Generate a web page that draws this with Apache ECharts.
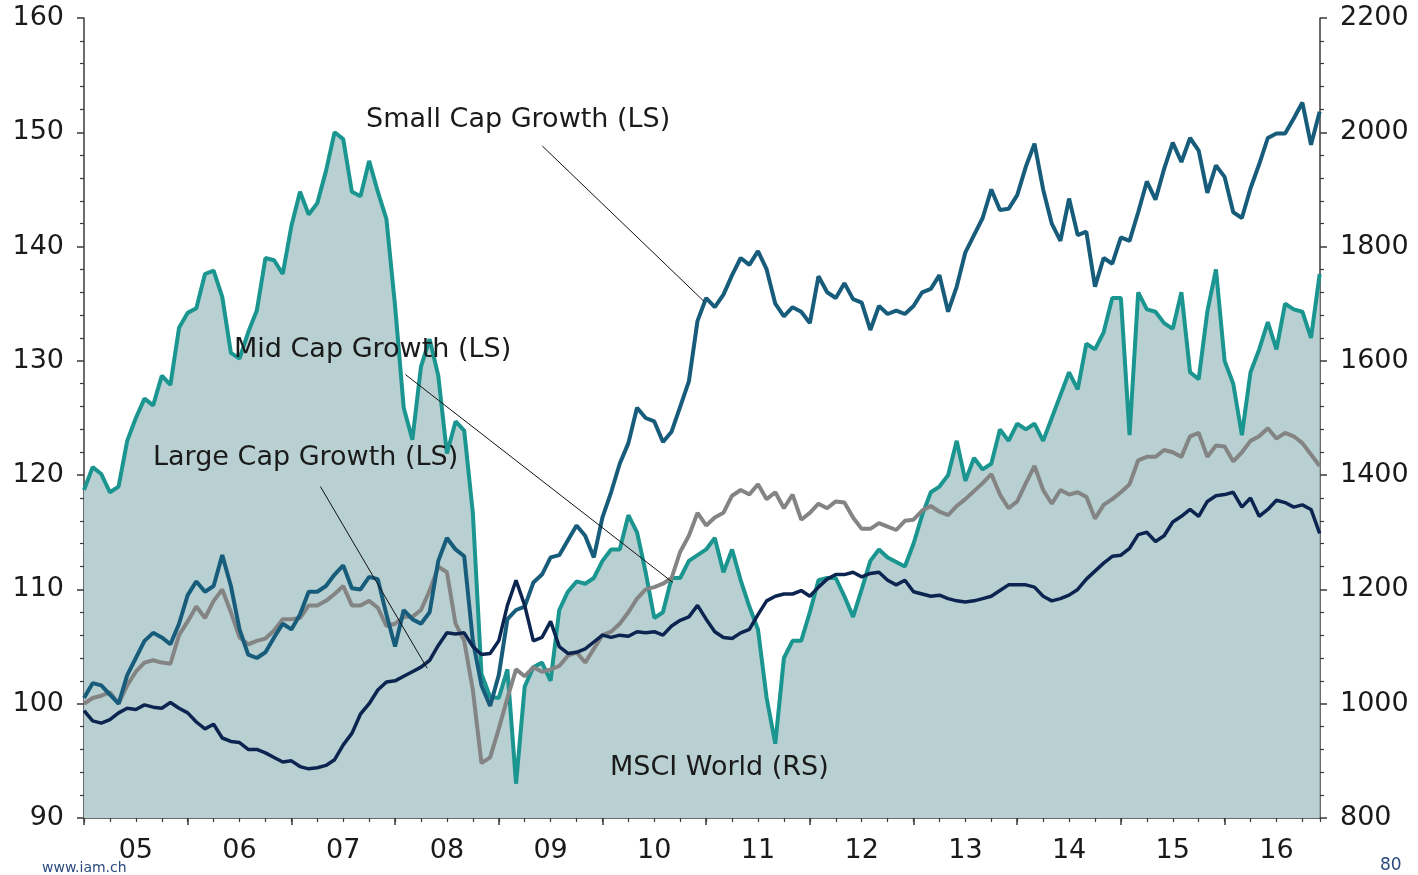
<!DOCTYPE html>
<html>
<head>
<meta charset="utf-8">
<script src="https://cdn.jsdelivr.net/npm/echarts@6/dist/echarts.min.js"></script>
<style>
  html, body { margin: 0; padding: 0; background: #fff; }
  #chart-container { width: 1418px; height: 875px; }
</style>
</head>
<body>
<div id="chart-container"></div>
<script>
// monthly readings, Jan 2005 .. Dec 2016
var startYear = 2005;

// left scale (LS)
var smallCap = [100.5, 101.8, 101.6, 100.8, 100, 102.5, 104, 105.5, 106.2, 105.8, 105.2, 107, 109.5, 110.7, 109.8, 110.3, 113, 110.3, 106.5, 104.3, 104, 104.5, 105.8, 107, 106.5,
  107.8, 109.8, 109.8, 110.3, 111.3, 112.1, 110.1, 110, 111.1, 110.9, 107.8, 105, 108.2, 107.4, 107, 108, 112.5, 114.5, 113.5, 112.9, 105.5, 101.6, 99.8,
  102.5, 107.4, 108.2, 108.5, 110.6, 111.3, 112.8, 113, 114.3, 115.6, 114.7, 112.8, 116.3, 118.5, 121, 122.8, 125.9, 125, 124.7, 122.9, 123.8, 126, 128.2, 133.5, 135.5, 134.7,
  135.8, 137.5, 139, 138.4, 139.6, 138, 135, 133.9, 134.7, 134.3, 133.3, 137.4, 136, 135.5, 136.8, 135.4, 135.1, 132.7, 134.8, 134.1, 134.4, 134.1, 134.8, 136,
  136.3, 137.5, 134.3, 136.5, 139.5, 141, 142.5, 145, 143.2, 143.3, 144.5, 147, 149, 145, 142, 140.5, 144.2, 141, 141.3, 136.5, 139, 138.5,
  140.8, 140.5, 143, 145.7, 144.1, 146.8, 149.1, 147.4, 149.5, 148.4, 144.7, 147.1, 146.1, 143, 142.5, 145.1, 147.2, 149.5, 149.9, 149.9, 151.2, 152.6, 148.9, 151.8];

var midCap = [100, 100.5, 100.7, 101, 100, 101.6, 102.8, 103.6, 103.8, 103.6, 103.5, 106, 107.2, 108.5, 107.5, 109, 110, 108, 105.8, 105.2, 105.5, 105.7, 106.4, 107.4, 107.4,
  107.5, 108.6, 108.6, 109, 109.6, 110.3, 108.6, 108.6, 109, 108.4, 106.8, 107, 107.6, 107.6, 108.2, 109.9, 112, 111.5, 107, 105.5, 101.2, 94.8, 95.3,
  97.8, 100.5, 103, 102.4, 103.2, 102.8, 103, 103.3, 104.2, 104.5, 103.6, 104.8, 106, 106.3, 107, 108, 109.2, 110, 110.2, 110.5, 111, 113.3, 114.7, 116.7, 115.6, 116.3,
  116.7, 118.2, 118.7, 118.3, 119.2, 117.9, 118.5, 117.1, 118.3, 116.1, 116.7, 117.5, 117.1, 117.7, 117.6, 116.3, 115.3, 115.3, 115.8, 115.5, 115.2, 116, 116.1, 116.9,
  117.3, 116.8, 116.5, 117.3, 117.9, 118.6, 119.3, 120.1, 118.3, 117.1, 117.7, 119.3, 120.8, 118.7, 117.5, 118.7, 118.3, 118.5, 118.1, 116.2, 117.4, 117.9,
  118.5, 119.2, 121.3, 121.6, 121.6, 122.2, 122, 121.6, 123.4, 123.7, 121.6, 122.6, 122.5, 121.2, 122, 123, 123.4, 124.1, 123.2, 123.7, 123.4, 122.8, 121.8, 120.8];

var largeCap = [99.4, 98.5, 98.3, 98.6, 99.2, 99.6, 99.5, 99.9, 99.7, 99.6, 100.1, 99.6, 99.2, 98.4, 97.8, 98.2, 97, 96.7, 96.6, 96, 96, 95.7, 95.3, 94.9, 95,
  94.5, 94.3, 94.4, 94.6, 95.1, 96.4, 97.4, 99.1, 100, 101.2, 101.9, 102, 102.4, 102.8, 103.2, 103.8, 105.1, 106.2, 106.1, 106.2, 105, 104.3, 104.4,
  105.5, 108.6, 110.8, 108.6, 105.5, 105.8, 107.2, 105, 104.4, 104.5, 104.8, 105.4, 106, 105.8, 106, 105.9, 106.3, 106.2, 106.3, 106, 106.8, 107.3, 107.6, 108.6, 107.4, 106.3,
  105.8, 105.7, 106.2, 106.5, 107.8, 109, 109.4, 109.6, 109.6, 109.9, 109.4, 110.2, 110.9, 111.3, 111.3, 111.5, 111.1, 111.4, 111.5, 110.8, 110.4, 110.8, 109.8, 109.6,
  109.4, 109.5, 109.2, 109, 108.9, 109, 109.2, 109.4, 109.9, 110.4, 110.4, 110.4, 110.2, 109.4, 109, 109.2, 109.5, 110, 110.9, 111.6, 112.3, 112.9,
  113, 113.6, 114.8, 115, 114.2, 114.7, 115.9, 116.4, 117, 116.4, 117.7, 118.2, 118.3, 118.5, 117.2, 118, 116.4, 117, 117.8, 117.6, 117.2, 117.4, 117, 114.9];

// right scale (RS)
var msciWorld = [1374, 1414, 1402, 1370, 1380, 1460, 1500, 1534, 1522, 1574, 1558, 1658, 1684, 1692, 1752, 1758, 1712, 1614, 1604, 1650, 1688, 1780, 1776, 1752, 1836,
  1896, 1856, 1876, 1932, 2000, 1988, 1896, 1888, 1950, 1896, 1848, 1696, 1518, 1462, 1590, 1638, 1574, 1438, 1494, 1478, 1334, 1052, 1012,
  1010, 1060, 860, 1030, 1064, 1072, 1040, 1164, 1196, 1214, 1210, 1220, 1250, 1270, 1270, 1330, 1300, 1230, 1150, 1160, 1220, 1220, 1250, 1260, 1270, 1290,
  1230, 1270, 1216, 1170, 1130, 1010, 930, 1080, 1110, 1110, 1160, 1216, 1220, 1220, 1188, 1152, 1200, 1250, 1270, 1256, 1248, 1240, 1280, 1330,
  1370, 1380, 1400, 1460, 1390, 1430, 1410, 1420, 1480, 1460, 1490, 1480, 1490, 1460, 1500, 1540, 1580, 1550, 1630, 1620, 1650, 1710,
  1710, 1470, 1720, 1690, 1686, 1666, 1656, 1720, 1580, 1568, 1686, 1760, 1600, 1560, 1470, 1580, 1620, 1668, 1620, 1700, 1690, 1686, 1640, 1752];

var yearTicks = [2005, 2006, 2007, 2008, 2009, 2010, 2011, 2012, 2013, 2014, 2015, 2016];
var yearLabels = ['05', '06', '07', '08', '09', '10', '11', '12', '13', '14', '15', '16'];

// leader lines from label to line, [year, LS value]
var leaders = [
  [[2009.42, 148.8], [2010.98, 135.2]],
  [[2008.10, 128.8], [2010.68, 110.6]],
  [[2007.28, 119.0], [2008.31, 103.1]]
];

function toPairs(arr) {
  return arr.map(function (v, i) { return [startYear + i / 12, v]; });
}

var labelMid = yearTicks.map(function (y) { return y + 0.5; });
var fontName = 'DejaVu Sans';
var axisColor = '#3a3a3a';
var annFont = '27px "DejaVu Sans"';

var dom = document.getElementById('chart-container');
var myChart = echarts.init(dom, null, { renderer: 'canvas' });

var option = {
  animation: false,
  grid: { left: 84, right: 98, top: 18, bottom: 57, containLabel: false },
  xAxis: [
    {
      type: 'value', min: 2005, max: 2016.92, position: 'bottom',
      axisLine: { show: true, lineStyle: { color: axisColor, width: 1.5 } },
      axisTick: { show: true, customValues: yearTicks, length: 7, lineStyle: { color: axisColor, width: 1.5 } },
      axisLabel: {
        customValues: labelMid, margin: 19, fontSize: 27, color: '#1a1a1a', fontFamily: fontName,
        formatter: function (v) { return yearLabels[Math.floor(v) - startYear]; }
      },
      splitLine: { show: false }
    },
    {
      type: 'value', min: 2005, max: 2016.92, interval: 0.25, position: 'bottom',
      axisLine: { show: false },
      axisTick: { show: true, length: 4, lineStyle: { color: axisColor, width: 1.2 } },
      axisLabel: { show: false },
      splitLine: { show: false }
    }
  ],
  yAxis: [
    {
      type: 'value', min: 90, max: 160, interval: 10, position: 'left',
      axisLine: { show: true, lineStyle: { color: axisColor, width: 1.5 } },
      axisTick: { show: true, length: 7, lineStyle: { color: axisColor, width: 1.5 } },
      minorTick: { show: true, splitNumber: 5, length: 4, lineStyle: { color: axisColor, width: 1.2 } },
      axisLabel: { margin: 20, fontSize: 27, color: '#1a1a1a', fontFamily: fontName },
      splitLine: { show: false }
    },
    {
      type: 'value', min: 800, max: 2200, interval: 200, position: 'right',
      axisLine: { show: true, lineStyle: { color: axisColor, width: 1.5 } },
      axisTick: { show: true, length: 7, lineStyle: { color: axisColor, width: 1.5 } },
      minorTick: { show: true, splitNumber: 5, length: 4, lineStyle: { color: axisColor, width: 1.2 } },
      axisLabel: {
        margin: 20, fontSize: 27, color: '#1a1a1a', fontFamily: fontName,
        formatter: function (v) { return String(v); }
      },
      splitLine: { show: false }
    }
  ],
  series: [
    {
      name: 'MSCI World (RS)', type: 'line', xAxisIndex: 0, yAxisIndex: 1,
      data: toPairs(msciWorld), symbol: 'none',
      lineStyle: { color: '#1a9590', width: 4 },
      areaStyle: { color: '#b8d0d1', opacity: 1, origin: 'start' }
    },
    {
      name: 'Mid Cap Growth (LS)', type: 'line', xAxisIndex: 0, yAxisIndex: 0,
      data: toPairs(midCap), symbol: 'none',
      lineStyle: { color: '#848484', width: 4 }
    },
    {
      name: 'Small Cap Growth (LS)', type: 'line', xAxisIndex: 0, yAxisIndex: 0,
      data: toPairs(smallCap), symbol: 'none',
      lineStyle: { color: '#175d7b', width: 4 },
      markLine: {
        silent: true, symbol: ['none', 'none'], label: { show: false },
        lineStyle: { color: '#111', width: 1, type: 'solid' },
        data: leaders.map(function (l) { return [{ coord: l[0] }, { coord: l[1] }]; })
      }
    },
    {
      name: 'Large Cap Growth (LS)', type: 'line', xAxisIndex: 0, yAxisIndex: 0,
      data: toPairs(largeCap), symbol: 'none',
      lineStyle: { color: '#0c2450', width: 3.5 }
    }
  ],
  graphic: [
    { type: 'text', z: 100, left: 366, top: 106, style: { text: 'Small Cap Growth (LS)', font: annFont, fill: '#1a1a1a' } },
    { type: 'text', z: 100, left: 234, top: 336, style: { text: 'Mid Cap Growth (LS)', font: annFont, fill: '#1a1a1a' } },
    { type: 'text', z: 100, left: 153, top: 444, style: { text: 'Large Cap Growth (LS)', font: annFont, fill: '#1a1a1a' } },
    { type: 'text', z: 100, left: 610, top: 754, style: { text: 'MSCI World (RS)', font: annFont, fill: '#1a1a1a' } },
    { type: 'text', z: 100, left: 42, top: 861, style: { text: 'www.iam.ch', font: '14px "DejaVu Sans"', fill: '#2b4a80' } },
    { type: 'text', z: 100, left: 1380, top: 857, style: { text: '80', font: '17px "DejaVu Sans"', fill: '#2b4a80' } }
  ]
};

myChart.setOption(option);
window.addEventListener('resize', myChart.resize);
</script>
</body>
</html>
